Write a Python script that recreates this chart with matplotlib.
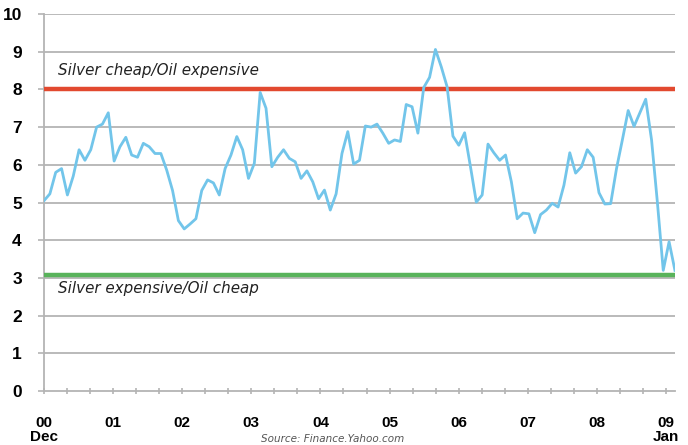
import numpy as np
import matplotlib
matplotlib.use("Agg")
import matplotlib.pyplot as plt
from matplotlib.ticker import MultipleLocator

# silver/oil ratio, monthly from Dec 2000 to early 2009
ratio = [5.05, 5.23, 5.8, 5.9, 5.2, 5.7, 6.4, 6.12, 6.4, 7.0, 7.08, 7.38,
         6.1, 6.48, 6.73, 6.26, 6.2, 6.57, 6.48, 6.3, 6.3, 5.86, 5.32, 4.52,
         4.3, 4.43, 4.57, 5.32, 5.6, 5.52, 5.2, 5.9, 6.26, 6.75, 6.4, 5.64,
         6.04, 7.92, 7.5, 5.95, 6.2, 6.4, 6.17, 6.08, 5.64, 5.84, 5.55, 5.1,
         5.33, 4.8, 5.23, 6.3, 6.88, 6.02, 6.12, 7.03, 7.0, 7.08, 6.84, 6.57,
         6.66, 6.62, 7.6, 7.54, 6.84, 8.05, 8.32, 9.06, 8.6, 8.07, 6.76, 6.52,
         6.85, 5.95, 5.01, 5.2, 6.55, 6.32, 6.12, 6.26, 5.55, 4.57, 4.72, 4.7,
         4.2, 4.68, 4.8, 4.98, 4.88, 5.46, 6.32, 5.78, 5.95, 6.4, 6.2, 5.26,
         4.96, 4.97, 5.9, 6.66, 7.44, 7.02, 7.38, 7.74, 6.66, 5.0, 3.2, 3.96,
         3.2]
upper_level = 8.0
lower_level = 3.07
year_labels = ["00\nDec", "01", "02", "03", "04", "05", "06", "07", "08", "09\nJan"]
upper_text = "Silver cheap/Oil expensive"
lower_text = "Silver expensive/Oil cheap"
source_text = "Source: Finance.Yahoo.com"

x_end = 9.13
x = np.linspace(0, x_end, len(ratio))

bold_font = ["Liberation Sans Narrow", "Liberation Sans", "DejaVu Sans"]
grid_col = "#b4b4b4"

fig = plt.figure(figsize=(6.88, 4.45), dpi=100)
ax = fig.add_axes([0.064, 0.1213, 0.917, 0.8472])

for v in range(1, 11):
    ax.axhline(v, color=grid_col, lw=1.3, zorder=1)

ax.axhline(upper_level, color="#e2492f", lw=3.2, zorder=3)
ax.axhline(lower_level, color="#59b35b", lw=3.2, zorder=3)
ax.plot(x, ratio, color="#72c5ea", lw=2.0, zorder=4)

ax.text(0.2, 8.49, upper_text, style="italic", fontsize=10.9,
        color="#222222", va="center", ha="left", family="DejaVu Sans")
ax.text(0.2, 2.72, lower_text, style="italic", fontsize=10.9,
        color="#222222", va="center", ha="left", family="DejaVu Sans")

ax.set_xlim(0, x_end)
ax.set_ylim(0, 10)
ax.set_yticks(range(0, 11))
ax.set_xticks(range(len(year_labels)))
ax.set_xticklabels(year_labels, family=bold_font, fontweight="bold",
                   fontsize=11, linespacing=1.0)
ax.set_yticklabels([str(v) for v in range(0, 11)], family=bold_font,
                   fontweight="bold", fontsize=12.5)
ax.xaxis.set_minor_locator(MultipleLocator(1 / 3))
ax.tick_params(axis="x", which="both", direction="inout", length=4,
               color=grid_col, width=1.2, pad=16)
ax.tick_params(axis="x", which="minor", length=4)
ax.tick_params(axis="y", direction="out", length=4, color=grid_col,
               width=1.2, pad=12)

for side in ["top", "right"]:
    ax.spines[side].set_visible(False)
for side in ["left", "bottom"]:
    ax.spines[side].set_color(grid_col)
    ax.spines[side].set_linewidth(1.3)

fig.text(0.484, 0.003, source_text, style="italic", fontsize=7.5,
         color="#555555", ha="center", va="bottom", family="DejaVu Sans")

fig.savefig("out.png", dpi=100)
